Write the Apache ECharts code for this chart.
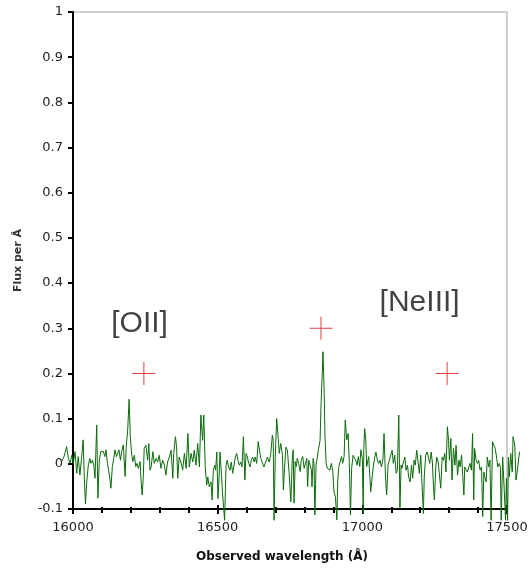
<!DOCTYPE html>
<html>
<head>
<meta charset="utf-8">
<script src="https://cdn.jsdelivr.net/npm/echarts@6/dist/echarts.min.js"></script>
<style>html,body{margin:0;padding:0;background:#fff}#c{width:531px;height:569px}</style>
</head>
<body>
<div id="c"></div>
<script>
// Observed wavelength (Å) of each spectrum sample
const wavelength = [
15961,15969,15978,15984,15990,15996,16001,16007,16013,16018,16024,16030,16035,16039,16043,16048,16053,16058,16062,16067,
16072,16076,16082,16086,16091,16096,16100,16105,16110,16114,16119,16123,16128,16131,16136,16141,16145,16150,16155,16159,
16164,16168,16174,16180,16184,16189,16194,16198,16203,16207,16212,16217,16221,16226,16232,
16235,16239,16243,16246,16252,16258,16262,16266,16270,16276,16281,16287,16293,16298,16304,16310,16316,16321,16327,16333,
16339,16345,16348,16354,16358,16362,16367,16373,16379,16385,16391,16397,16402,16408,16414,16419,16425,16431,16437,16442,
16448,16452,16457,16462,16466,16471,16477,16481,16485,16490,
16493,16497,16501,16505,16508,16513,16516,16520,16524,16529,16533,16538,16543,16547,16552,16557,16561,16566,16570,16575,
16580,16584,16589,16594,16598,16603,16607,16612,16616,16621,16626,16630,16635,16640,16644,16649,16654,16660,16666,16672,
16678,16683,16689,16692,16695,16699,16704,16709,16713,16718,16724,16727,16732,16736,16741,16747,16753,16758,
16761,16764,16768,16772,16775,16780,16785,16789,16794,16799,16803,16808,16811,16815,16819,16824,16826,16830,16833,16836,
16840,16845,16849,16854,16857,16861,16864,16868,16871,16875,16879,16884,16888,16893,16898,16902,16907,16912,16915,16919,
16923,16928,16932,16937,16941,16946,16951,16955,16959,16963,16968,16972,16977,16982,16986,16991,16995,17000,17003,17005,
17008,17012,17015,17019,17022,17026,17029,
17031,17034,17038,17043,17047,17052,17057,17061,17066,17071,17075,17080,17084,17089,17093,17098,17103,17107,17112,17117,
17121,17126,17130,17134,17137,17142,17147,17151,17156,17160,17165,17170,17174,17179,17183,17188,17194,17197,17202,17206,
17211,17214,17219,17224,17228,17233,17238,17242,17246,17249,17254,17257,17262,17266,17271,17276,17280,17285,17289,17294,
17298,
17301,17306,17310,17315,17320,17324,17329,17334,17338,17343,17347,17351,17354,17359,17363,17368,17372,17377,17381,17385,
17388,17393,17398,17402,17407,17412,17416,17420,17423,17428,17432,17437,17441,17445,17450,17455,17459,17464,17468,17473,
17477,17480,17485,17490,17495,17498,17502,17505,17508,17513,17518,17521,17527,17531,17536,17541,17544
];
// Flux per Å at each sample
const flux = [
0.005,0.016,0.038,0.012,0.001,0.019,0.001,0.027,-0.021,0.016,-0.025,0.016,0.053,-0.028,-0.089,-0.036,-0.003,0.012,0.001,0.008,
-0.003,-0.032,0.086,-0.076,0.008,0.027,0.023,0.027,0.016,0.031,0.001,-0.014,-0.036,-0.054,-0.006,0.012,0.031,0.016,0.019,0.031,
0.008,0.027,0.042,-0.028,0.038,0.075,0.143,0.060,0.019,0.005,0.019,-0.006,0.001,-0.010,0.005,
-0.036,-0.069,-0.029,0.034,0.041,0.008,0.045,-0.014,-0.007,0.027,0.001,0.012,0.004,0.019,-0.010,0.008,-0.003,-0.025,0.004,0.015,
0.030,-0.032,0.023,0.060,0.037,-0.032,0.015,0.004,-0.014,0.023,-0.010,0.067,-0.007,0.023,0.004,0.030,-0.003,0.045,-0.007,0.108,
0.052,0.108,-0.007,-0.047,-0.029,-0.051,-0.040,-0.080,-0.014,-0.003,
-0.014,0.026,-0.077,-0.029,0.026,-0.021,-0.058,-0.060,-0.125,-0.004,0.008,-0.007,-0.014,0.004,-0.021,-0.025,0.015,0.023,0.008,-0.003,
0.004,-0.007,0.060,-0.036,0.023,0.015,0.001,-0.007,0.008,0.015,0.004,0.015,0.001,0.049,0.052,0.012,0.008,-0.007,-0.003,0.015,
0.004,0.019,0.063,0.052,-0.125,0.015,0.100,0.060,0.023,0.045,0.019,-0.058,0.001,0.037,0.030,-0.021,-0.084,0.015,
0.031,-0.087,0.005,-0.006,0.012,0.001,-0.017,0.008,0.016,-0.010,0.001,0.012,-0.050,0.008,0.012,-0.014,-0.051,0.012,0.001,-0.113,
-0.003,0.001,0.034,0.052,0.126,0.193,0.248,0.163,0.060,0.001,-0.010,-0.006,-0.014,0.001,-0.017,-0.062,-0.073,-0.124,-0.036,-0.006,
-0.003,0.016,0.001,0.016,0.097,0.053,0.067,0.001,-0.113,-0.010,0.019,0.016,0.008,-0.003,0.016,-0.006,0.031,0.012,-0.110,0.031,
0.078,0.052,-0.006,-0.006,0.016,-0.028,-0.062,
-0.066,-0.029,-0.007,0.015,0.026,0.008,0.001,0.008,-0.007,0.008,0.067,-0.029,-0.069,-0.003,0.008,0.012,0.030,0.001,0.019,-0.021,
-0.014,0.108,-0.097,-0.003,-0.010,0.004,0.015,-0.014,-0.003,-0.029,-0.040,-0.003,-0.032,0.008,-0.003,0.030,0.034,-0.021,0.019,-0.040,
-0.110,-0.029,0.019,0.026,0.015,0.001,0.026,0.004,-0.051,-0.080,-0.007,0.015,0.004,-0.021,-0.054,0.015,0.008,0.023,-0.018,0.082,
0.052,
0.008,0.056,-0.036,0.034,-0.003,0.041,-0.025,0.008,-0.007,0.019,-0.025,-0.069,-0.007,-0.003,-0.018,-0.007,0.001,-0.014,0.067,-0.080,
0.034,0.008,0.001,0.008,-0.014,-0.007,-0.117,-0.018,-0.029,-0.040,0.015,-0.007,0.008,-0.125,0.049,0.052,0.034,0.015,-0.007,0.001,
-0.007,-0.125,0.015,-0.051,-0.125,-0.032,-0.125,0.015,-0.029,0.023,-0.018,0.060,0.041,-0.036,-0.014,0.015,0.027
];
// Expected line positions (red crosses)
const markerX = [16245, 16857, 17293];
const markerY = [0.2, 0.3, 0.2];
// Line-name annotations
const labelText = ['[OII]', '[NeIII]'];
const labelX = [16230, 17198];
const labelY = [0.309, 0.356];
// Axis settings
const xMin = 16000, xMax = 17500, xStep = 500;
const yMin = -0.1, yMax = 1, yStep = 0.1;
// The spectrum runs a little past both ends of the drawn axis
const dataXMin = 15950, dataXMax = 17550;

const spectrum = wavelength.map((w, i) => [w, flux[i]]);
const crosses = markerX.map((x, i) => [x, markerY[i]]);
const labels = labelText.map((t, i) => ({ name: t, value: [labelX[i], labelY[i]] }));

// layout of the visible plot box
const W = 531, L = 73, R = 24, T = 12, B = 60;
const pxPerUnit = (W - L - R) / (xMax - xMin);
const dataLeft = L - (xMin - dataXMin) * pxPerUnit;
const dataRight = R - (dataXMax - xMax) * pxPerUnit;

const chart = echarts.init(document.getElementById('c'), null, { renderer: 'canvas' });
const tickFont = { fontFamily: 'DejaVu Sans', fontSize: 13, color: '#222' };
chart.setOption({
  animation: false,
  backgroundColor: '#fff',
  grid: [
    { left: L, right: R, top: T, bottom: B, show: true, borderColor: '#a0a0a0', borderWidth: 1 },
    { left: dataLeft, right: dataRight, top: T, bottom: B }
  ],
  xAxis: [{
    gridIndex: 0, type: 'value', min: xMin, max: xMax, interval: xStep,
    axisLine: { onZero: false, lineStyle: { color: '#000', width: 2 } },
    axisTick: { show: true, length: 5, lineStyle: { color: '#000', width: 2 } },
    minorTick: { show: true, splitNumber: 5, length: 4, lineStyle: { color: '#000', width: 2 } },
    splitLine: { show: false },
    axisLabel: Object.assign({ margin: 12, formatter: v => String(v) }, tickFont),
    name: 'Observed wavelength (Å)', nameLocation: 'middle', nameGap: 42,
    nameTextStyle: { fontFamily: 'DejaVu Sans', fontSize: 12, fontWeight: 'bold', color: '#111', padding: [0, 16, 0, 0] }
  }, {
    gridIndex: 0, type: 'value', min: xMin, max: xMax, interval: xStep, position: 'bottom',
    axisLine: { show: false, onZero: false },
    axisTick: { show: true, inside: true, length: 4, lineStyle: { color: '#000', width: 2 } },
    minorTick: { show: true, splitNumber: 5, length: 2, lineStyle: { color: '#000', width: 2 } },
    splitLine: { show: false }, axisLabel: { show: false }
  }, {
    gridIndex: 1, type: 'value', min: dataXMin, max: dataXMax, show: false,
    axisLine: { onZero: false }, splitLine: { show: false }
  }],
  yAxis: [{
    gridIndex: 0, type: 'value', min: yMin, max: yMax, interval: yStep,
    axisLine: { onZero: false, lineStyle: { color: '#000', width: 2 } },
    axisTick: { show: true, length: 5, lineStyle: { color: '#000', width: 2 } },
    splitLine: { show: false },
    axisLabel: Object.assign({ margin: 10, formatter: v => String(+v.toFixed(1)) }, tickFont),
    name: 'Flux per Å', nameLocation: 'middle', nameGap: 49, nameRotate: 90,
    nameTextStyle: { fontFamily: 'DejaVu Sans', fontSize: 11, fontWeight: 'bold', color: '#333' }
  }, {
    gridIndex: 1, type: 'value', min: yMin, max: yMax, interval: yStep, show: false,
    axisLine: { onZero: false }, splitLine: { show: false }
  }],
  series: [{
    type: 'line', xAxisIndex: 2, yAxisIndex: 1, data: spectrum, clip: false,
    showSymbol: false, symbol: 'none',
    lineStyle: { color: '#0b6b0b', width: 1 }, z: 3
  }, {
    type: 'scatter', xAxisIndex: 0, yAxisIndex: 0, data: crosses, clip: false,
    symbol: 'path://M0,11H23V12H0Z M11,0H12V23H11Z', symbolSize: 23,
    itemStyle: { color: '#e01010' }, z: 4
  }, {
    type: 'scatter', xAxisIndex: 0, yAxisIndex: 0, data: labels, symbolSize: 1,
    itemStyle: { color: 'transparent' },
    label: { show: true, position: 'inside', formatter: p => p.name,
      fontFamily: 'Liberation Sans', fontSize: 30, color: '#111' }, z: 5
  }]
});
</script>
</body>
</html>
